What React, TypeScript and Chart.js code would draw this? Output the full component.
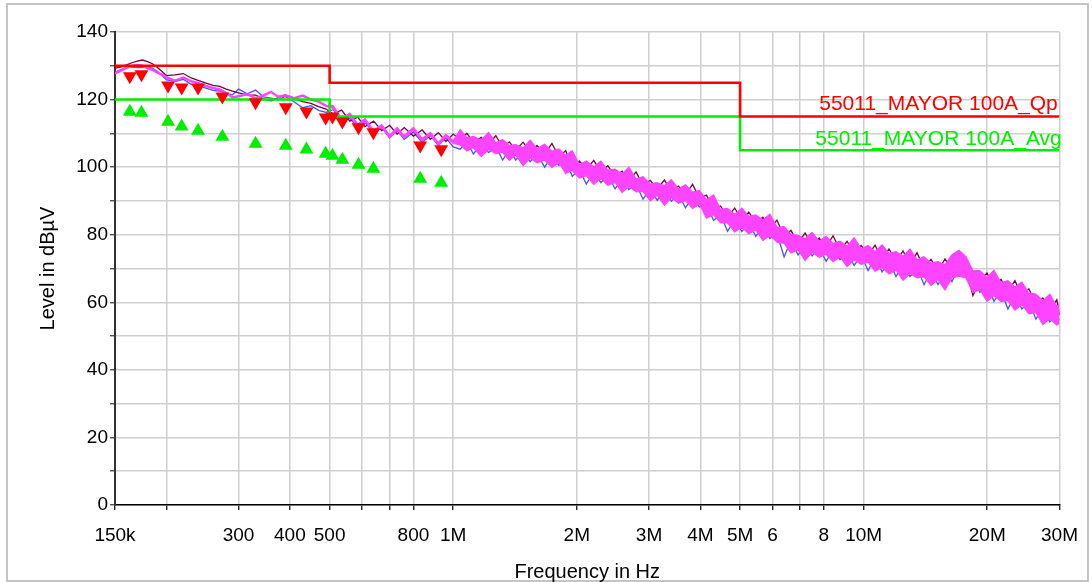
import React, { useEffect, useRef } from 'react';
import { Chart, registerables } from 'chart.js';

Chart.register(...registerables);

const FONT = '"Liberation Sans", Arial, Helvetica, sans-serif';

const X_TITLE = 'Frequency in Hz';
const Y_TITLE = 'Level in dBµV';
const LIMIT_NAMES = ['55011_MAYOR 100A_Qp', '55011_MAYOR 100A_Avg'];

// x axis ticks (MHz) and their labels
const X_TICKS = [0.15, 0.2, 0.3, 0.4, 0.5, 0.6, 0.7, 0.8, 1, 2, 3, 4, 5, 6, 7, 8, 10, 20, 30];
const X_LABELS = ['150k', '', '300', '400', '500', '', '', '800', '1M', '2M', '3M', '4M', '5M', '6', '', '8', '10M', '20M', '30M'];
const Y_TICKS = [0, 10, 20, 30, 40, 50, 60, 70, 80, 90, 100, 110, 120, 130, 140];
const Y_LABELS = ['0', '', '20', '', '40', '', '60', '', '80', '', '100', '', '120', '', '140'];

// limit lines
const LIMIT_FREQ = [0.15, 0.5, 0.5, 5, 5, 30];
const QP_LIMIT = [130, 130, 125, 125, 115, 115];
const AVG_LIMIT = [120, 120, 115, 115, 105, 105];

// final measurement markers
const MARK_FREQ = [0.163, 0.174, 0.202, 0.218, 0.239, 0.274, 0.330, 0.391, 0.439, 0.489, 0.508, 0.537, 0.588, 0.639, 0.831, 0.935];
const QP_LEVEL = [126.9, 127.5, 124.2, 123.6, 123.6, 120.9, 119.2, 117.7, 116.5, 114.7, 115.0, 113.5, 111.8, 110.3, 106.4, 105.3];
const AVG_LEVEL = [116.4, 116.1, 113.4, 112.0, 110.8, 109.0, 106.9, 106.3, 105.2, 104.0, 103.4, 102.2, 100.7, 99.5, 96.6, 95.4];

// scan frequencies (MHz)
const FREQ_MHZ = [
  0.150, 0.155, 0.160, 0.165, 0.170, 0.175, 0.180, 0.185, 0.190, 0.195,
  0.200, 0.210, 0.220, 0.230, 0.240, 0.250, 0.260, 0.270, 0.280, 0.290,
  0.300, 0.315, 0.330, 0.345, 0.360, 0.375, 0.390, 0.410, 0.430, 0.450,
  0.470, 0.490,
  0.510, 0.535, 0.560, 0.585, 0.610, 0.640, 0.670, 0.700, 0.730, 0.760,
  0.800, 0.840, 0.880, 0.920, 0.960, 1.000,
  1.04, 1.08, 1.12, 1.17, 1.22, 1.27, 1.32, 1.37, 1.42, 1.48,
  1.54, 1.60, 1.67, 1.74, 1.81, 1.88, 1.95, 2.03, 2.11, 2.20,
  2.29, 2.38, 2.48, 2.58, 2.68, 2.79, 2.90, 3.02, 3.14, 3.27,
  3.40, 3.54, 3.68, 3.83, 3.98, 4.14, 4.31, 4.48, 4.66, 4.85,
  5.05, 5.25, 5.46, 5.68, 5.91, 6.15, 6.40, 6.65, 6.92, 7.20,
  7.49, 7.79, 8.10, 8.42, 8.76, 9.11, 9.48, 9.86, 10.25, 10.66,
  11.09, 11.53, 11.99, 12.47, 12.97, 13.49, 14.03, 14.59, 15.17, 15.78,
  16.41, 17.07, 17.75, 18.46, 19.20, 19.97, 20.77, 21.60, 22.46, 23.36,
  24.29, 25.26, 26.27, 27.32, 28.41, 29.55, 30.00,
];

// trace 1 (dark maroon)
const MAROON = [
  129.3, 129.6, 130.3, 130.9, 131.4, 131.7, 131.2, 130.6, 129.6, 128.4,
  127.1, 127.3, 127.7, 126.4, 125.6, 124.9, 124.2, 123.9, 123.1, 122.5,
  122.0, 121.4, 121.3, 120.2, 119.6, 120.6, 121.4, 120.3, 119.4, 118.9,
  117.9, 117.2,
  115.8, 116.9, 113.6, 114.8, 112.0, 113.6, 110.8, 112.4, 109.8, 111.7,
  109.2, 111.0, 108.2, 110.2, 107.6, 109.8,
  108.1, 110.0, 107.3, 108.8, 106.7, 109.3, 105.9, 107.5, 105.1, 107.4,
  104.5, 106.4, 103.9, 107.0, 103.1, 104.9, 99.2, 101.8, 99.3, 102.0,
  98.5, 100.4, 97.3, 98.8, 96.1, 98.6, 94.6, 96.1, 93.5, 96.2,
  92.8, 94.4, 91.9, 94.9, 90.8, 91.7, 87.7, 88.5, 85.3, 87.9,
  84.3, 86.7, 83.5, 85.2, 81.9, 84.3, 79.5, 81.3, 77.6, 80.5,
  76.9, 79.0, 76.3, 79.7, 75.5, 78.0, 74.7, 76.8, 74.0, 76.9,
  72.9, 75.8, 72.1, 75.2, 71.1, 74.7, 70.1, 72.7, 69.3, 72.8,
  69.8, 74.4, 69.8, 62.0, 66.3, 68.7, 64.6, 66.8, 63.1, 66.4,
  61.9, 64.0, 59.5, 61.3, 57.7, 60.8, 56.3,
];

// trace 2 (blue)
const BLUE = [
  128.1, 128.9, 129.5, 129.6, 129.5, 129.5, 129.6, 129.3, 128.4, 127.2,
  125.9, 125.3, 126.0, 124.5, 124.0, 123.4, 122.7, 122.5, 121.8, 121.4,
  123.1, 121.7, 122.8, 120.8, 120.4, 119.9, 120.9, 119.3, 117.6, 118.2,
  116.8, 116.2,
  117.0, 113.6, 114.5, 111.6, 113.3, 109.9, 111.8, 108.6, 110.9, 108.2,
  110.4, 107.3, 109.4, 106.4, 108.7, 106.0,
  105.3, 107.5, 103.9, 106.8, 104.3, 106.0, 102.1, 105.2, 102.1, 104.5,
  101.6, 104.0, 100.0, 103.2, 100.5, 102.0, 97.3, 99.3, 95.0, 98.6,
  95.4, 97.6, 93.6, 96.5, 93.4, 95.0, 90.5, 93.5, 90.2, 93.0,
  89.9, 92.0, 88.0, 91.1, 88.2, 88.8, 84.2, 86.0, 81.0, 84.5,
  80.9, 83.6, 79.5, 82.6, 78.9, 80.4, 73.4, 78.4, 74.0, 77.0,
  73.7, 76.3, 72.1, 75.6, 72.6, 74.8, 70.9, 74.0, 69.4, 73.2,
  69.0, 72.2, 67.6, 71.3, 67.6, 70.3, 65.2, 69.3, 65.2, 68.8,
  66.1, 71.2, 72.4, 67.0, 62.9, 65.0, 60.3, 63.5, 58.0, 62.2,
  58.0, 60.4, 55.0, 58.2, 54.2, 56.4, 54.6,
];

// trace 3 (magenta), upper and lower edge of its noise band
const MAGENTA_HI = [
  128.0, 128.7, 129.6, 130.1, 130.4, 130.2, 129.5, 129.0, 128.2, 127.6,
  126.8, 125.8, 126.7, 125.6, 125.0, 124.2, 123.6, 123.2, 122.2, 120.8,
  121.2, 121.8, 120.6, 121.4, 122.5, 121.0, 121.5, 120.6, 121.4, 120.2,
  119.6, 118.4,
  118.2, 114.4, 116.0, 112.8, 114.4, 110.9, 112.6, 109.5, 111.8, 109.4,
  111.8, 108.5, 110.3, 107.3, 109.7, 107.8,
  111.1, 108.7, 109.1, 108.0, 110.3, 107.2, 108.2, 106.4, 106.7, 105.7,
  108.0, 105.5, 106.8, 104.7, 105.4, 103.5, 104.9, 100.8, 101.8, 100.1,
  101.8, 99.1, 99.4, 98.0, 100.0, 96.5, 97.2, 95.0, 95.4, 94.5,
  96.3, 93.5, 94.8, 92.6, 93.1, 90.3, 91.8, 87.5, 87.8, 86.0,
  87.9, 85.4, 85.9, 84.4, 86.1, 82.2, 82.4, 80.2, 79.8, 78.8,
  80.7, 78.1, 79.5, 77.4, 78.1, 76.6, 79.1, 75.8, 76.8, 75.0,
  77.0, 74.5, 75.0, 73.6, 75.8, 72.6, 73.5, 71.6, 72.0, 71.1,
  74.1, 75.4, 73.5, 69.3, 69.4, 67.3, 69.5, 65.8, 66.4, 64.5,
  66.0, 62.7, 62.4, 60.5, 62.4, 58.7, 59.7,
];
const MAGENTA_LO = [
  127.6, 128.3, 129.2, 129.7, 130.0, 129.8, 129.1, 128.6, 127.8, 127.2,
  126.4, 125.4, 126.3, 125.2, 124.6, 123.8, 123.2, 122.8, 121.8, 120.4,
  120.8, 121.4, 120.2, 121.0, 122.1, 120.6, 121.1, 120.2, 121.0, 119.8,
  119.2, 118.0,
  117.4, 113.6, 115.2, 112.0, 113.6, 110.1, 111.8, 108.7, 111.0, 108.6,
  111.0, 107.7, 109.5, 106.5, 108.9, 107.0,
  106.6, 104.8, 105.8, 103.1, 105.2, 104.0, 104.4, 102.0, 103.6, 100.5,
  102.7, 101.3, 102.1, 99.9, 101.3, 98.1, 99.0, 96.8, 97.5, 94.9,
  96.7, 94.6, 95.5, 92.5, 94.3, 92.7, 92.8, 90.0, 91.7, 88.7,
  91.0, 89.3, 90.1, 87.8, 89.0, 84.9, 85.9, 83.5, 83.5, 80.8,
  82.2, 80.3, 81.4, 78.3, 79.8, 77.8, 77.4, 74.6, 75.5, 72.4,
  74.8, 73.3, 74.2, 72.0, 73.4, 70.6, 72.6, 71.2, 71.9, 69.2,
  70.3, 68.4, 69.5, 66.5, 68.5, 67.2, 67.5, 65.0, 66.7, 63.7,
  67.2, 67.7, 67.2, 62.9, 63.7, 60.3, 62.0, 60.2, 60.5, 57.7,
  59.3, 56.6, 56.9, 53.4, 55.1, 53.3, 53.7,
];

const RED = '#ff0000';
const GREEN = '#00ee00';
const MAGENTA = '#ff44ff';
const MAROON_C = '#7a0040';
const BLUE_C = '#4455ff';

const pts = (xs: number[], ys: number[]) => xs.map((x, i) => ({ x, y: ys[i] }));

export default function App() {
  const ref = useRef<HTMLCanvasElement>(null);

  useEffect(() => {
    if (!ref.current) return;
    const decor = {
      id: 'decor',
      beforeDraw(chart: any) {
        const ctx = chart.ctx;
        ctx.save();
        ctx.fillStyle = '#ffffff';
        ctx.fillRect(0, 0, chart.width, chart.height);
        ctx.strokeStyle = '#c4c4c4';
        ctx.lineWidth = 2;
        ctx.strokeRect(7, 4, 1081, 577);
        ctx.restore();
      },
      afterDatasetsDraw(chart: any) {
        const ctx = chart.ctx;
        const y = chart.scales.y;
        const cx = chart.chartArea.right - 121;
        ctx.save();
        ctx.font = `21px ${FONT}`;
        ctx.textAlign = 'center';
        ctx.textBaseline = 'alphabetic';
        ctx.fillStyle = RED;
        ctx.fillText(LIMIT_NAMES[0], cx, y.getPixelForValue(QP_LIMIT[5]) - 6);
        ctx.fillStyle = GREEN;
        ctx.fillText(LIMIT_NAMES[1], cx, y.getPixelForValue(AVG_LIMIT[5]) - 5);
        ctx.restore();
      },
    };

    const lineDs = (label: string, data: any, color: string, width: number, extra: any = {}) => ({
      label,
      data,
      showLine: true,
      pointRadius: 0,
      borderColor: color,
      backgroundColor: color,
      borderWidth: width,
      tension: 0,
      fill: false,
      ...extra,
    });

    const chart = new Chart(ref.current, {
      type: 'scatter',
      data: {
        datasets: [
          {
            label: 'QP',
            data: pts(MARK_FREQ, QP_LEVEL),
            showLine: false,
            pointStyle: 'triangle',
            rotation: 180,
            pointRadius: 8,
            backgroundColor: RED,
            borderColor: RED,
            borderWidth: 0,
          },
          {
            label: 'AVG',
            data: pts(MARK_FREQ, AVG_LEVEL),
            showLine: false,
            pointStyle: 'triangle',
            rotation: 0,
            pointRadius: 8,
            backgroundColor: GREEN,
            borderColor: GREEN,
            borderWidth: 0,
          },
          lineDs('QP limit', pts(LIMIT_FREQ, QP_LIMIT), RED, 2.6),
          lineDs('AVG limit', pts(LIMIT_FREQ, AVG_LIMIT), GREEN, 2.6),
          lineDs('Magenta hi', pts(FREQ_MHZ, MAGENTA_HI), MAGENTA, 1.2, { fill: '+1' }),
          lineDs('Magenta lo', pts(FREQ_MHZ, MAGENTA_LO), MAGENTA, 1.2),
          lineDs('Maroon', pts(FREQ_MHZ, MAROON), MAROON_C, 1.3),
          lineDs('Blue', pts(FREQ_MHZ, BLUE), BLUE_C, 1.3),
        ],
      },
      options: {
        animation: false,
        responsive: false,
        devicePixelRatio: 1,
        events: [],
        layout: { padding: { left: 0, right: 30, top: 32, bottom: 0 } },
        plugins: { legend: { display: false }, tooltip: { enabled: false } },
        scales: {
          x: {
            type: 'logarithmic',
            min: 0.15,
            max: 30,
            afterBuildTicks: (s: any) => {
              s.ticks = X_TICKS.map((v) => ({ value: v }));
            },
            afterFit: (s: any) => {
              s.height = 77;
            },
            ticks: {
              autoSkip: false,
              maxRotation: 0,
              minRotation: 0,
              padding: 14,
              color: '#000',
              font: { family: FONT, size: 19 },
              callback: (_v: any, i: number) => X_LABELS[i] ?? '',
            },
            grid: { color: '#cfcfcf', lineWidth: 1.5, tickColor: '#000', tickLength: 5, tickWidth: 1.2 },
            border: { color: '#000', width: 1.5 },
            title: {
              display: true,
              text: X_TITLE,
              color: '#000',
              font: { family: FONT, size: 20 },
              padding: { top: 0, bottom: -2 },
            },
          },
          y: {
            type: 'linear',
            min: 0,
            max: 140,
            afterBuildTicks: (s: any) => {
              s.ticks = Y_TICKS.map((v) => ({ value: v }));
            },
            afterFit: (s: any) => {
              s.width = 115;
            },
            ticks: {
              autoSkip: false,
              padding: 2,
              color: '#000',
              font: { family: FONT, size: 19 },
              callback: (_v: any, i: number) => Y_LABELS[i] ?? '',
            },
            grid: { color: '#cfcfcf', lineWidth: 1.5, tickColor: '#333', tickLength: 5, tickWidth: 1.2 },
            border: { color: '#333', width: 2 },
            title: {
              display: true,
              text: Y_TITLE,
              color: '#000',
              font: { family: FONT, size: 20 },
              padding: { top: 36, bottom: 0 },
            },
          },
        },
      },
      plugins: [decor],
    } as any);

    return () => chart.destroy();
  }, []);

  return (
    <div style={{ position: 'fixed', left: 0, top: 0, width: 1092, height: 582, background: '#fff' }}>
      <canvas ref={ref} width={1092} height={582} style={{ width: 1092, height: 582, display: 'block' }} />
    </div>
  );
}
